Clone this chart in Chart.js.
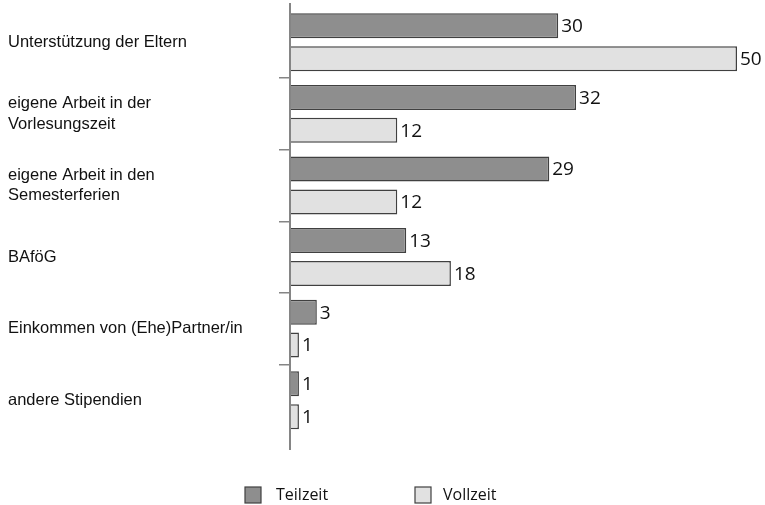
<!DOCTYPE html>
<html>
<head>
<meta charset="utf-8">
<script src="https://cdn.jsdelivr.net/npm/chart.js@4/dist/chart.umd.min.js"></script>
<style>
  html, body { margin: 0; padding: 0; background: #fff; }
  #wrap { width: 765px; height: 505px; }
</style>
</head>
<body>
<div id="wrap"><canvas id="c" width="765" height="505"></canvas></div>
<script>
// Finanzierungsquellen im Studium, Teilzeit vs. Vollzeit (in %)
const categories = [
  'Unterstützung der Eltern',
  ['eigene Arbeit in der', 'Vorlesungszeit'],
  ['eigene Arbeit in den', 'Semesterferien'],
  'BAföG',
  'Einkommen von (Ehe)Partner/in',
  'andere Stipendien'
];
const teilzeit = [30, 32, 29, 13, 3, 1];
const vollzeit = [50, 12, 12, 18, 1, 1];
const seriesNames = ['Teilzeit', 'Vollzeit'];

const DARK = '#8e8e8e', LIGHT = '#e1e1e1', EDGE = '#404040', AXIS = '#858585';

// value labels at the end of each bar
const valueLabels = {
  id: 'valueLabels',
  afterDatasetsDraw(chart) {
    const ctx = chart.ctx;
    ctx.save();
    ctx.font = '19px "Open Sans"';
    ctx.fillStyle = '#111';
    ctx.textAlign = 'left';
    ctx.textBaseline = 'middle';
    chart.data.datasets.forEach((ds, di) => {
      chart.getDatasetMeta(di).data.forEach((bar, i) => {
        ctx.fillText(String(ds.data[i]), bar.x + 3, bar.y + 1);
      });
    });
    ctx.restore();
  }
};

// vertical category axis line, slightly longer than the plot area
const axisLine = {
  id: 'axisLine',
  afterDraw(chart) {
    const { ctx, chartArea } = chart;
    ctx.save();
    ctx.strokeStyle = AXIS;
    ctx.lineWidth = 2;
    ctx.beginPath();
    ctx.moveTo(chartArea.left, chartArea.top - 3.5);
    ctx.lineTo(chartArea.left, chartArea.bottom + 14);
    ctx.stroke();
    ctx.restore();
  }
};

// legend row below the plot
const bottomLegend = {
  id: 'bottomLegend',
  afterDraw(chart) {
    const ctx = chart.ctx;
    const items = [{ x: 245, tx: 276 }, { x: 415, tx: 443 }];
    ctx.save();
    ctx.font = '16px "Open Sans"';
    ctx.textBaseline = 'middle';
    ctx.textAlign = 'left';
    chart.data.datasets.forEach((ds, i) => {
      const it = items[i];
      ctx.fillStyle = ds.backgroundColor;
      ctx.fillRect(it.x, 487, 16, 16);
      ctx.strokeStyle = ds.borderColor;
      ctx.lineWidth = 1.2;
      ctx.strokeRect(it.x, 487, 16, 16);
      ctx.fillStyle = '#111';
      ctx.fillText(ds.label, it.tx, 495);
    });
    ctx.restore();
  }
};

new Chart(document.getElementById('c'), {
  type: 'bar',
  data: {
    labels: categories,
    datasets: [
      { label: seriesNames[0], data: teilzeit, backgroundColor: DARK, borderColor: EDGE, borderWidth: 1.5 },
      { label: seriesNames[1], data: vollzeit, backgroundColor: LIGHT, borderColor: EDGE, borderWidth: 1.5 }
    ]
  },
  options: {
    indexAxis: 'y',
    responsive: false,
    animation: false,
    devicePixelRatio: 1,
    datasets: { bar: { categoryPercentage: 0.92, barPercentage: 0.76 } },
    layout: { padding: { left: 8, right: 28, top: 6.5, bottom: 69 } },
    plugins: {
      legend: { display: false },
      tooltip: { enabled: false }
    },
    scales: {
      x: { display: false, min: 0, max: 50 },
      y: {
        afterFit(scale) {
          scale.width = 282;
          scale.paddingTop = 0;
          scale.paddingBottom = 0;
        },
        border: { display: false },
        grid: {
          drawOnChartArea: false,
          drawTicks: true,
          tickLength: 11,
          lineWidth: 1.5,
          color: (c) => (c.type !== 'tick' || c.index === 0) ? 'rgba(0,0,0,0)' : AXIS
        },
        ticks: {
          crossAlign: 'far',
          color: '#111',
          font: { family: '"Liberation Sans", Arial, sans-serif', size: 16.5, lineHeight: 1.27 }
        }
      }
    }
  },
  plugins: [valueLabels, axisLine, bottomLegend]
});
</script>
</body>
</html>
